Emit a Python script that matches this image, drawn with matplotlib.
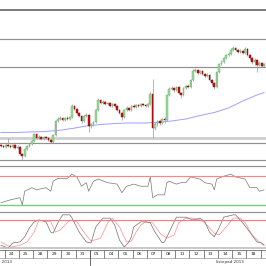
import matplotlib
matplotlib.use('Agg')
import matplotlib.pyplot as plt
import numpy as np

# 4h candles, index 0 = 23 Oct 2013 (last bars)
opens = [55, 54, 53, 55, 54, 53, 55, 52, 53, 46,
         44, 51, 54, 56, 59, 66, 62, 63, 61, 63,
         62, 60, 58, 65, 79, 81, 82, 80, 82, 81,
         83, 94, 91, 87, 84, 79, 84, 85, 74, 76,
         78, 90, 100, 97, 98, 96, 97, 94, 96, 94,
         90, 87, 83, 90, 92, 90, 94, 93, 95, 94,
         96, 95, 94, 96, 106, 72, 76, 79, 77, 81,
         80, 105, 111, 112, 110, 113, 107, 105, 112, 114,
         113, 120, 129, 130, 127, 129, 126, 124, 125, 120,
         117, 113, 128, 136, 138, 142, 145, 146, 150, 152,
         150, 148, 149, 147, 151, 145, 142, 138, 140, 135,
         137, 134]
closes = [54, 53, 55, 54, 53, 55, 52, 53, 46, 44,
          51, 54, 56, 59, 66, 62, 63, 61, 63, 62,
          60, 58, 65, 79, 81, 82, 80, 82, 81, 83,
          94, 91, 87, 84, 79, 84, 85, 74, 76, 78,
          90, 100, 97, 98, 96, 97, 94, 96, 94, 90,
          87, 83, 90, 92, 90, 94, 93, 95, 94, 96,
          95, 94, 96, 106, 72, 76, 79, 77, 81, 80,
          105, 111, 112, 110, 113, 107, 105, 112, 114, 113,
          120, 129, 130, 127, 129, 126, 124, 125, 120, 117,
          113, 128, 136, 138, 142, 145, 146, 150, 152, 150,
          148, 149, 147, 151, 145, 142, 138, 140, 135, 137,
          134, 136]
highs = [56, 55, 56, 62, 56, 56, 56, 55, 54, 47,
         52, 55, 57, 60, 67, 67, 65, 64, 64, 64,
         63, 61, 66, 80, 83, 84, 83, 83, 84, 84,
         96, 95, 92, 88, 85, 85, 87, 86, 77, 79,
         91, 102, 101, 100, 99, 98, 98, 97, 97, 95,
         91, 88, 91, 94, 93, 95, 96, 96, 96, 97,
         97, 96, 97, 108, 121, 78, 80, 80, 82, 83,
         106, 113, 114, 113, 114, 114, 108, 113, 115, 116,
         121, 131, 132, 131, 130, 130, 127, 127, 126, 121,
         118, 129, 137, 140, 143, 146, 148, 152, 154, 153,
         151, 151, 150, 153, 152, 146, 143, 142, 141, 139,
         138, 137]
lows = [53, 52, 52, 53, 52, 52, 51, 51, 45, 40,
        43, 50, 53, 55, 58, 61, 61, 60, 60, 61,
        59, 57, 57, 64, 78, 80, 79, 79, 80, 80,
        82, 90, 86, 83, 77, 78, 83, 68, 72, 74,
        77, 89, 96, 96, 95, 95, 93, 93, 93, 89,
        86, 80, 82, 89, 89, 89, 92, 92, 93, 93,
        94, 93, 93, 95, 62, 70, 74, 75, 76, 77,
        79, 104, 110, 108, 109, 106, 102, 104, 111, 112,
        112, 119, 128, 126, 126, 125, 122, 123, 119, 115,
        111, 112, 127, 135, 137, 141, 144, 145, 149, 149,
        147, 147, 146, 146, 144, 140, 136, 135, 128, 134,
        133, 133]

ma_x = [0, 6, 12, 18, 24, 30, 36, 42, 48, 54, 60, 66, 72, 78, 84, 90, 96, 102, 108, 111]
ma_v = [67.5, 67.5, 68, 68.5, 69.5, 71.5, 74, 75.5, 76.5, 77, 77, 77.5, 79, 81, 84.5,
        87.5, 92, 99, 105, 107.5]

levels = [190, 161, 133, 57, 40]
band_level = 62

rsi_x = [0, 4, 8, 9, 10, 13, 15, 19, 21, 22, 24, 28, 30, 32, 34, 36, 37, 39, 41, 45,
         49, 51, 53, 56, 59, 62, 63, 64, 66, 69, 70, 71, 74, 76, 78, 80, 84, 86, 89, 90,
         91, 94, 97, 99, 103, 105, 108, 109, 111]
rsi_v = [33, 37, 40, 30, 49, 54, 51, 54, 49, 63, 67, 67, 73, 69, 56, 61, 49, 63, 66, 61,
         59, 47, 56, 59, 56, 56, 69, 40, 44, 44, 61, 63, 59, 61, 61, 69, 66, 61, 59, 51,
         66, 70, 73, 69, 66, 54, 54, 49, 51]

k_x = [0, 3, 5, 8, 10, 12, 14, 16, 19, 21, 22, 24, 26, 29, 30, 33, 36, 38, 40, 43,
       46, 48, 50, 52, 54, 55, 56, 59, 61, 63, 65, 68, 69, 72, 74, 78, 81, 84, 86, 88,
       90, 92, 94, 98, 99, 102, 105, 108, 110, 111]
k_v = [26, 20, 31, 33, 44, 63, 76, 80, 76, 54, 52, 74, 91, 91, 84, 54, 33, 31, 65, 84,
       84, 69, 37, 22, 33, 44, 65, 76, 76, 74, 54, 31, 33, 65, 86, 86, 80, 84, 76, 54,
       44, 63, 86, 91, 91, 74, 54, 33, 31, 26]
d_x = [0, 4, 8, 11, 14, 16, 21, 23, 25, 29, 32, 35, 38, 42, 45, 47, 50, 53, 55, 57,
       59, 61, 64, 67, 70, 73, 75, 78, 81, 84, 86, 90, 92, 95, 98, 101, 103, 106, 109, 111]
d_v = [33, 22, 26, 33, 54, 80, 76, 54, 59, 80, 76, 54, 35, 41, 74, 84, 65, 33, 35, 54,
       69, 76, 74, 52, 41, 48, 74, 84, 84, 80, 74, 52, 48, 65, 84, 84, 74, 48, 33, 26]

days = ['23', '24', '25', '28', '29', '30', '31', '01', '04', '05', '06', '07', '08',
        '11', '12', '13', '14', '15', '18', '19']
month_prev = 'październik 2013'
month_cur = 'listopad 2013'

W = 266.0
XMIN, XMAX = -0.42, 111.82

fig = plt.figure(figsize=(2.66, 2.66), dpi=100)


def pax(top, bottom):
    return fig.add_axes([0, 1 - bottom / W, 1, (bottom - top) / W])


# main price panel
ax = pax(0, 166)
idx = np.arange(len(closes))
o = np.array(opens)
c = np.array(closes)
up = c >= o
ax.vlines(idx, lows, highs, color='#a0a0a0', lw=0.55, zorder=2)
body_lo = np.minimum(o, c)
body_h = np.maximum(np.abs(c - o), 0.6)
ax.bar(idx[up], body_h[up], bottom=body_lo[up], width=0.7, color='#9cdc9c',
       edgecolor='#62aa62', lw=0.3, zorder=3)
ax.bar(idx[~up], body_h[~up], bottom=body_lo[~up], width=0.7, color='#c8141a',
       edgecolor='#8a0000', lw=0.3, zorder=3)
ax.plot(ma_x, ma_v, color='#a0a0ff', lw=0.7, zorder=1)
ax.axhline(levels[0], color='#7a7a7a', lw=1.4, zorder=0)
for lv in levels[1:]:
    ax.axhline(lv, color='#909090', lw=0.85, zorder=0)
ax.axhline(band_level, color='#cfcfcf', lw=2.0, zorder=0)
ax.set_xlim(XMIN, XMAX)
ax.set_ylim(34, 200)
ax.axis('off')

# RSI panel
ar = pax(166, 212)
ar.plot(rsi_x, rsi_v, color='#777777', lw=0.5)
ar.axhline(70, color='#ff8484', lw=0.85)
ar.axhline(30, color='#7acc7a', lw=1.0)
ar.set_xlim(XMIN, XMAX)
ar.set_ylim(20, 84.3)

# stochastic panel
ast = pax(212, 250)
ast.plot(d_x, d_v, color='#ff8c8c', lw=0.5)
ast.plot(k_x, k_v, color='#707070', lw=0.5)
ast.axhline(80, color='#ff7a7a', lw=0.85)
ast.axhline(20, color='#c0c0c0', lw=1.2)
ast.set_xlim(XMIN, XMAX)
ast.set_ylim(15.8, 97.1)

for a in (ar, ast):
    a.set_xticks([])
    a.set_yticks([])
    for s in ('left', 'right', 'bottom'):
        a.spines[s].set_visible(False)
    a.spines['top'].set_color('#909090')
    a.spines['top'].set_linewidth(0.85)

# date axis
ad = pax(250, 266)
ad.set_xlim(XMIN, XMAX)
ad.set_ylim(0, 2)
ad.axis('off')
ad.axhline(2, color='#888888', lw=0.8)
ad.axhline(1.02, color='#aaaaaa', lw=0.6)
for k, lab in enumerate(days):
    cx = -1.5 + 6 * k
    ad.text(cx, 1.5, lab, ha='center', va='center', fontsize=3.2, color='#222222')
    ad.vlines(cx + 3, 1.05, 1.95, color='#555555', lw=0.5)
ad.vlines(37.5, 0, 2, color='#555555', lw=0.6)
ad.text(4.5, 0.5, month_prev, ha='right', va='center', fontsize=3.0, color='#333333')
ad.text(96.5, 0.5, month_cur, ha='center', va='center', fontsize=3.0, color='#333333')

fig.savefig('out.png', dpi=100)
